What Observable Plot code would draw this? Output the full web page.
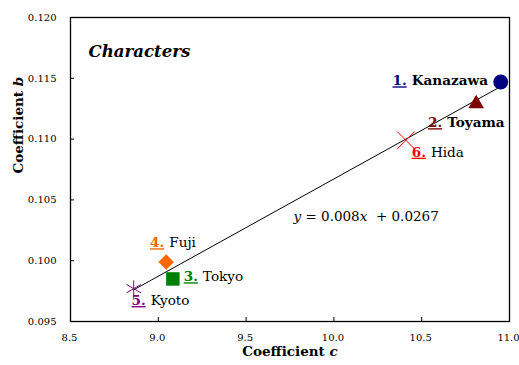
<!DOCTYPE html>
<html><head><meta charset="utf-8">
<script src="https://cdn.jsdelivr.net/npm/d3@7"></script>
<script src="https://cdn.jsdelivr.net/npm/@observablehq/plot@0.6"></script>
<style>
body{margin:0;background:#fff}
</style>
</head><body><div id="chart"></div>
<script>
// ---- data ----
const cities = ["Kanazawa", "Toyama", "Tokyo", "Fuji", "Kyoto", "Hida"];
const ranks = ["1.", "2.", "3.", "4.", "5.", "6."];
const coefC = [10.95, 10.81, 9.083, 9.045, 8.86, 10.41];
const coefB = [0.1147, 0.1129, 0.0985, 0.0999, 0.0977, 0.1099];
const xTicks = [8.5, 9.0, 9.5, 10.0, 10.5, 11.0];
const yTicks = [0.095, 0.100, 0.105, 0.110, 0.115, 0.120];
const titleText = "Characters";
const equationParts = ["y", " = 0.008", "x", "  + 0.0267"];
const equationAt = [9.77, 0.1036];
const xLabelParts = ["Coefficient ", "c"];
const yLabelParts = ["Coefficient ", "b"];

// ---- styles ----
const FONT = "DejaVu Serif";
const symbols = ["circle", "triangle", "square", "diamond2", "asterisk", "times"];
const colors = ["#000080", "#800000", "#008000", "#ff6600", "#800080", "#ff0000"];
const symbolR = [7.5, 5.8, 7.6, 7.0, 7.9, 8.1];
const strokeOnly = [false, false, false, false, true, true];
const boldName = [true, true, false, false, false, false];
// offset (px) from the point to the start of the city name
const nameOffsets = [[-89, -1], [-29, 19], [30, -2], [3, -19], [17, 12], [25, 12]];

const W = 519, H = 365, mL = 70, mR = 10, mT = 17, mB = 44;
const plotW = W - mL - mR, plotH = H - mT - mB;
const idx = d3.range(cities.length);

const marks = [
  Plot.frame({stroke: "black", strokeWidth: 1.3}),
  Plot.ruleX(xTicks.slice(1, -1), {x: d => d, insetTop: plotH - 4, stroke: "black"}),
  Plot.ruleY(yTicks.slice(1, -1), {y: d => d, insetRight: plotW - 4, stroke: "black"}),
  Plot.axisX(xTicks, {tickSize: 0, tickPadding: 12, tickFormat: d3.format(".1f"), label: null, fontSize: 10, dx: -1, fontFamily: FONT}),
  Plot.axisY(yTicks, {tickSize: 0, tickPadding: 14, tickFormat: d3.format(".3f"), label: null, fontSize: 10, fontFamily: FONT}),
  Plot.linearRegressionY(idx, {x: i => coefC[i], y: i => coefB[i], stroke: "black", strokeWidth: 1, ci: 0})
];

idx.forEach(i => {
  const base = {x: j => coefC[j], y: j => coefB[j], symbol: symbols[i], r: symbolR[i]};
  marks.push(Plot.dot([i], strokeOnly[i]
    ? {...base, stroke: colors[i], strokeWidth: 1, fill: "none"}
    : {...base, fill: colors[i], stroke: "none"}));
  const [ox, oy] = nameOffsets[i];
  marks.push(Plot.text([i], {x: j => coefC[j], y: j => coefB[j], text: j => ranks[j],
    dx: ox - 5, dy: oy, textAnchor: "end", fill: colors[i], fontWeight: "bold", fontSize: 13.6, fontFamily: FONT}));
  marks.push(Plot.text([i], {x: j => coefC[j], y: j => coefB[j], text: j => cities[j],
    dx: ox, dy: oy, textAnchor: "start", fill: "black", fontWeight: boldName[i] ? "bold" : "normal", fontSize: 13.6, fontFamily: FONT}));
});

marks.push(
  Plot.text([titleText], {text: d => d, frameAnchor: "top-left", dx: 18, dy: 28, textAnchor: "start",
    fontSize: 16.6, fontWeight: "bold", fontStyle: "italic", fontFamily: FONT}),
  Plot.text([equationParts.join("")], {text: d => d, x: () => equationAt[0], y: () => equationAt[1],
    textAnchor: "start", fontSize: 13.5, fontFamily: FONT}),
  Plot.text([xLabelParts.join("")], {text: d => d, frameAnchor: "bottom", dy: 34, fontSize: 13.5, fontWeight: "bold", fontFamily: FONT}),
  Plot.text([yLabelParts.join("")], {text: d => d, frameAnchor: "left", dx: -52, dy: 4, rotate: -90, fontSize: 13.5, fontWeight: "bold", fontFamily: FONT})
);

const svg = Plot.plot({
  width: W, height: H,
  marginLeft: mL, marginRight: mR, marginTop: mT, marginBottom: mB,
  x: {domain: [8.5, 11.0]},
  y: {domain: [0.095, 0.120]},
  style: {fontFamily: FONT, fontSize: "12px", background: "white", color: "black"},
  marks
});

// rich text: italics and underlines
const rich = new Map([
  [equationParts.join(""), [equationParts, k => k % 2 === 0]],
  [xLabelParts.join(""), [xLabelParts, k => k === 1]],
  [yLabelParts.join(""), [yLabelParts, k => k === 1]]
]);
d3.select(svg).selectAll("text").each(function () {
  const t = d3.select(this);
  const s = this.textContent;
  if (ranks.includes(s)) t.style("text-decoration", "underline");
  if (rich.has(s)) {
    const [parts, isItalic] = rich.get(s);
    t.text(null);
    parts.forEach((p, k) => t.append("tspan").attr("font-style", isItalic(k) ? "italic" : null).text(p));
  }
});
document.getElementById("chart").appendChild(svg);
</script>
</body></html>
